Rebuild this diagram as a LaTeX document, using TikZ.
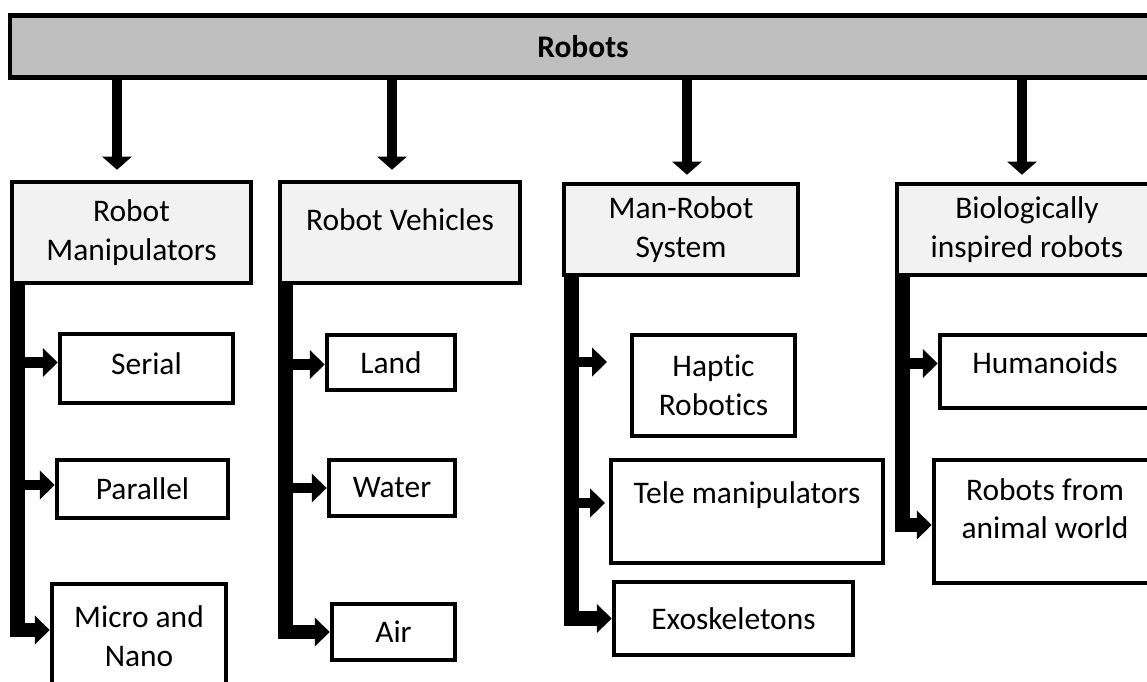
\documentclass[tikz,border=0pt]{standalone}
\usepackage{fontspec}
\setmainfont{Carlito}[Ligatures=NoCommon]
\usetikzlibrary{arrows.meta,positioning}

\definecolor{bargray}{HTML}{BFBFBF}
\definecolor{boxgray}{HTML}{F2F2F2}

% text lifted inside its box
\newcommand{\liftup}[2]{\raisebox{#1}[\height][\depth]{\begin{tabular}{@{}c@{}}#2\end{tabular}}}

\begin{document}
\begin{tikzpicture}[x=0.02cm,y=-0.02cm,
 box/.style={draw, line width=2.6pt, fill=white, inner sep=0pt, align=center, font=\fontsize{17.9}{22}\selectfont},
 headbox/.style={box, fill=boxgray},
 rootbox/.style={box, fill=bargray, font=\bfseries\fontsize{17.9}{22}\selectfont},
 mainarrow/.style={line width=6.2pt, -{Triangle[length=7.4pt,width=16.4pt]}},
 branch/.style={line width=8.5pt, line join=miter, -{Triangle[length=8.5pt,width=16pt]}},
 twig/.style={line width=6.2pt, -{Triangle[length=8.5pt,width=16pt]}}]

\useasboundingbox (0,0) rectangle (1147,681);
\clip (0,0) rectangle (1147,681);
\fill[white] (0,0) rectangle (1147,681);

%Root
\node (robots) [rootbox, minimum width=22.92cm, minimum height=1.24cm] at (583,46.5) {Robots};

%Categories
\node (rm) [headbox, minimum width=4.78cm, minimum height=2.02cm] at (131.5,232.5) {Robot\\Manipulators};
\node (rv) [headbox, minimum width=4.8cm, minimum height=2.02cm] at (400,232.5) {\liftup{5.5pt}{Robot Vehicles}};
\node (mrs) [headbox, minimum width=4.68cm, minimum height=1.82cm] at (681,229.5) {Man-Robot\\System};
\node (bio) [headbox, minimum width=5.2cm, minimum height=1.82cm] at (1027,229.5) {Biologically\\inspired robots};

%Leaves
\node (serial) [box, minimum width=3.46cm, minimum height=1.38cm] at (146.5,368.5) {\liftup{1.2pt}{Serial}};
\node (parallel) [box, minimum width=3.42cm, minimum height=1.16cm] at (142.5,489) {Parallel};
\node (micro) [box, minimum width=3.48cm, minimum height=2.08cm] at (139,636) {Micro and\\Nano};

\node (land) [box, minimum width=2.56cm, minimum height=1.1cm] at (391,362.5) {Land};
\node (water) [box, minimum width=2.52cm, minimum height=1.12cm] at (392,488) {Water};
\node (air) [box, minimum width=2.46cm, minimum height=1.12cm] at (393.5,632) {Air};

\node (haptic) [box, minimum width=3.26cm, minimum height=2.02cm] at (713.5,385.5) {Haptic\\Robotics};
\node (tele) [box, minimum width=5.44cm, minimum height=2.06cm] at (747,511.5) {Tele manipulators\\\mbox{}};
\node (exo) [box, minimum width=4.78cm, minimum height=1.46cm] at (733.5,618.5) {Exoskeletons};

\node (human) [box, minimum width=4.2cm, minimum height=1.46cm] at (1045,371.5) {\liftup{3.5pt}{Humanoids}};
\node (animal) [box, minimum width=4.44cm, minimum height=2.46cm] at (1045,521.5) {\liftup{5.5pt}{Robots from\\animal world}};

%Arrows from the root
\path (rm.north) ++(-14.5,-10) coordinate (rmin);
\path (rv.north) ++(-8,-10) coordinate (rvin);
\path (mrs.north) ++(6,-7) coordinate (mrsin);
\path (bio.north) ++(-5,-7) coordinate (bioin);
\foreach \c in {rmin,rvin,mrsin,bioin}
\draw[mainarrow] (robots.south -| \c) -- (\c);

%Bars under the categories
\coordinate (rmbar) at ([xshift=0.15cm]rm.south west);
\coordinate (rvbar) at ([xshift=0.15cm]rv.south west);
\coordinate (mrsbar) at ([xshift=0.2cm]mrs.south west);
\coordinate (biobar) at ([xshift=0.15cm]bio.south west);

%Arrow ends
\coordinate (serialin) at ([shift={(0,-6)}]serial.west);
\coordinate (parallelin) at ([shift={(0,-4)}]parallel.west);
\coordinate (microin) at ([shift={(0,-6)}]micro.west);
\coordinate (landin) at ([shift={(0,2)}]land.west);
\coordinate (hapticin) at ([shift={(-22.7,-23.5)}]haptic.west);
\coordinate (telein) at ([shift={(-3.7,-8.5)}]tele.west);
\coordinate (humanin) at ([shift={(0,-8)}]human.west);
\coordinate (animalin) at ([shift={(0,3.5)}]animal.west);

\draw[branch] (rmbar) |- (microin);
\draw[twig] (rmbar |- serialin) -- (serialin);
\draw[twig] (rmbar |- parallelin) -- (parallelin);

\draw[branch] (rvbar) |- (air.west);
\draw[twig] (rvbar |- landin) -- (landin);
\draw[twig] (rvbar |- water.west) -- (water.west);

\draw[branch] (mrsbar) |- (exo.west);
\draw[twig] (mrsbar |- hapticin) -- (hapticin);
\draw[twig] (mrsbar |- telein) -- (telein);

\draw[branch] (biobar) |- (animalin);
\draw[twig] (biobar |- humanin) -- (humanin);

\end{tikzpicture}
\end{document}
